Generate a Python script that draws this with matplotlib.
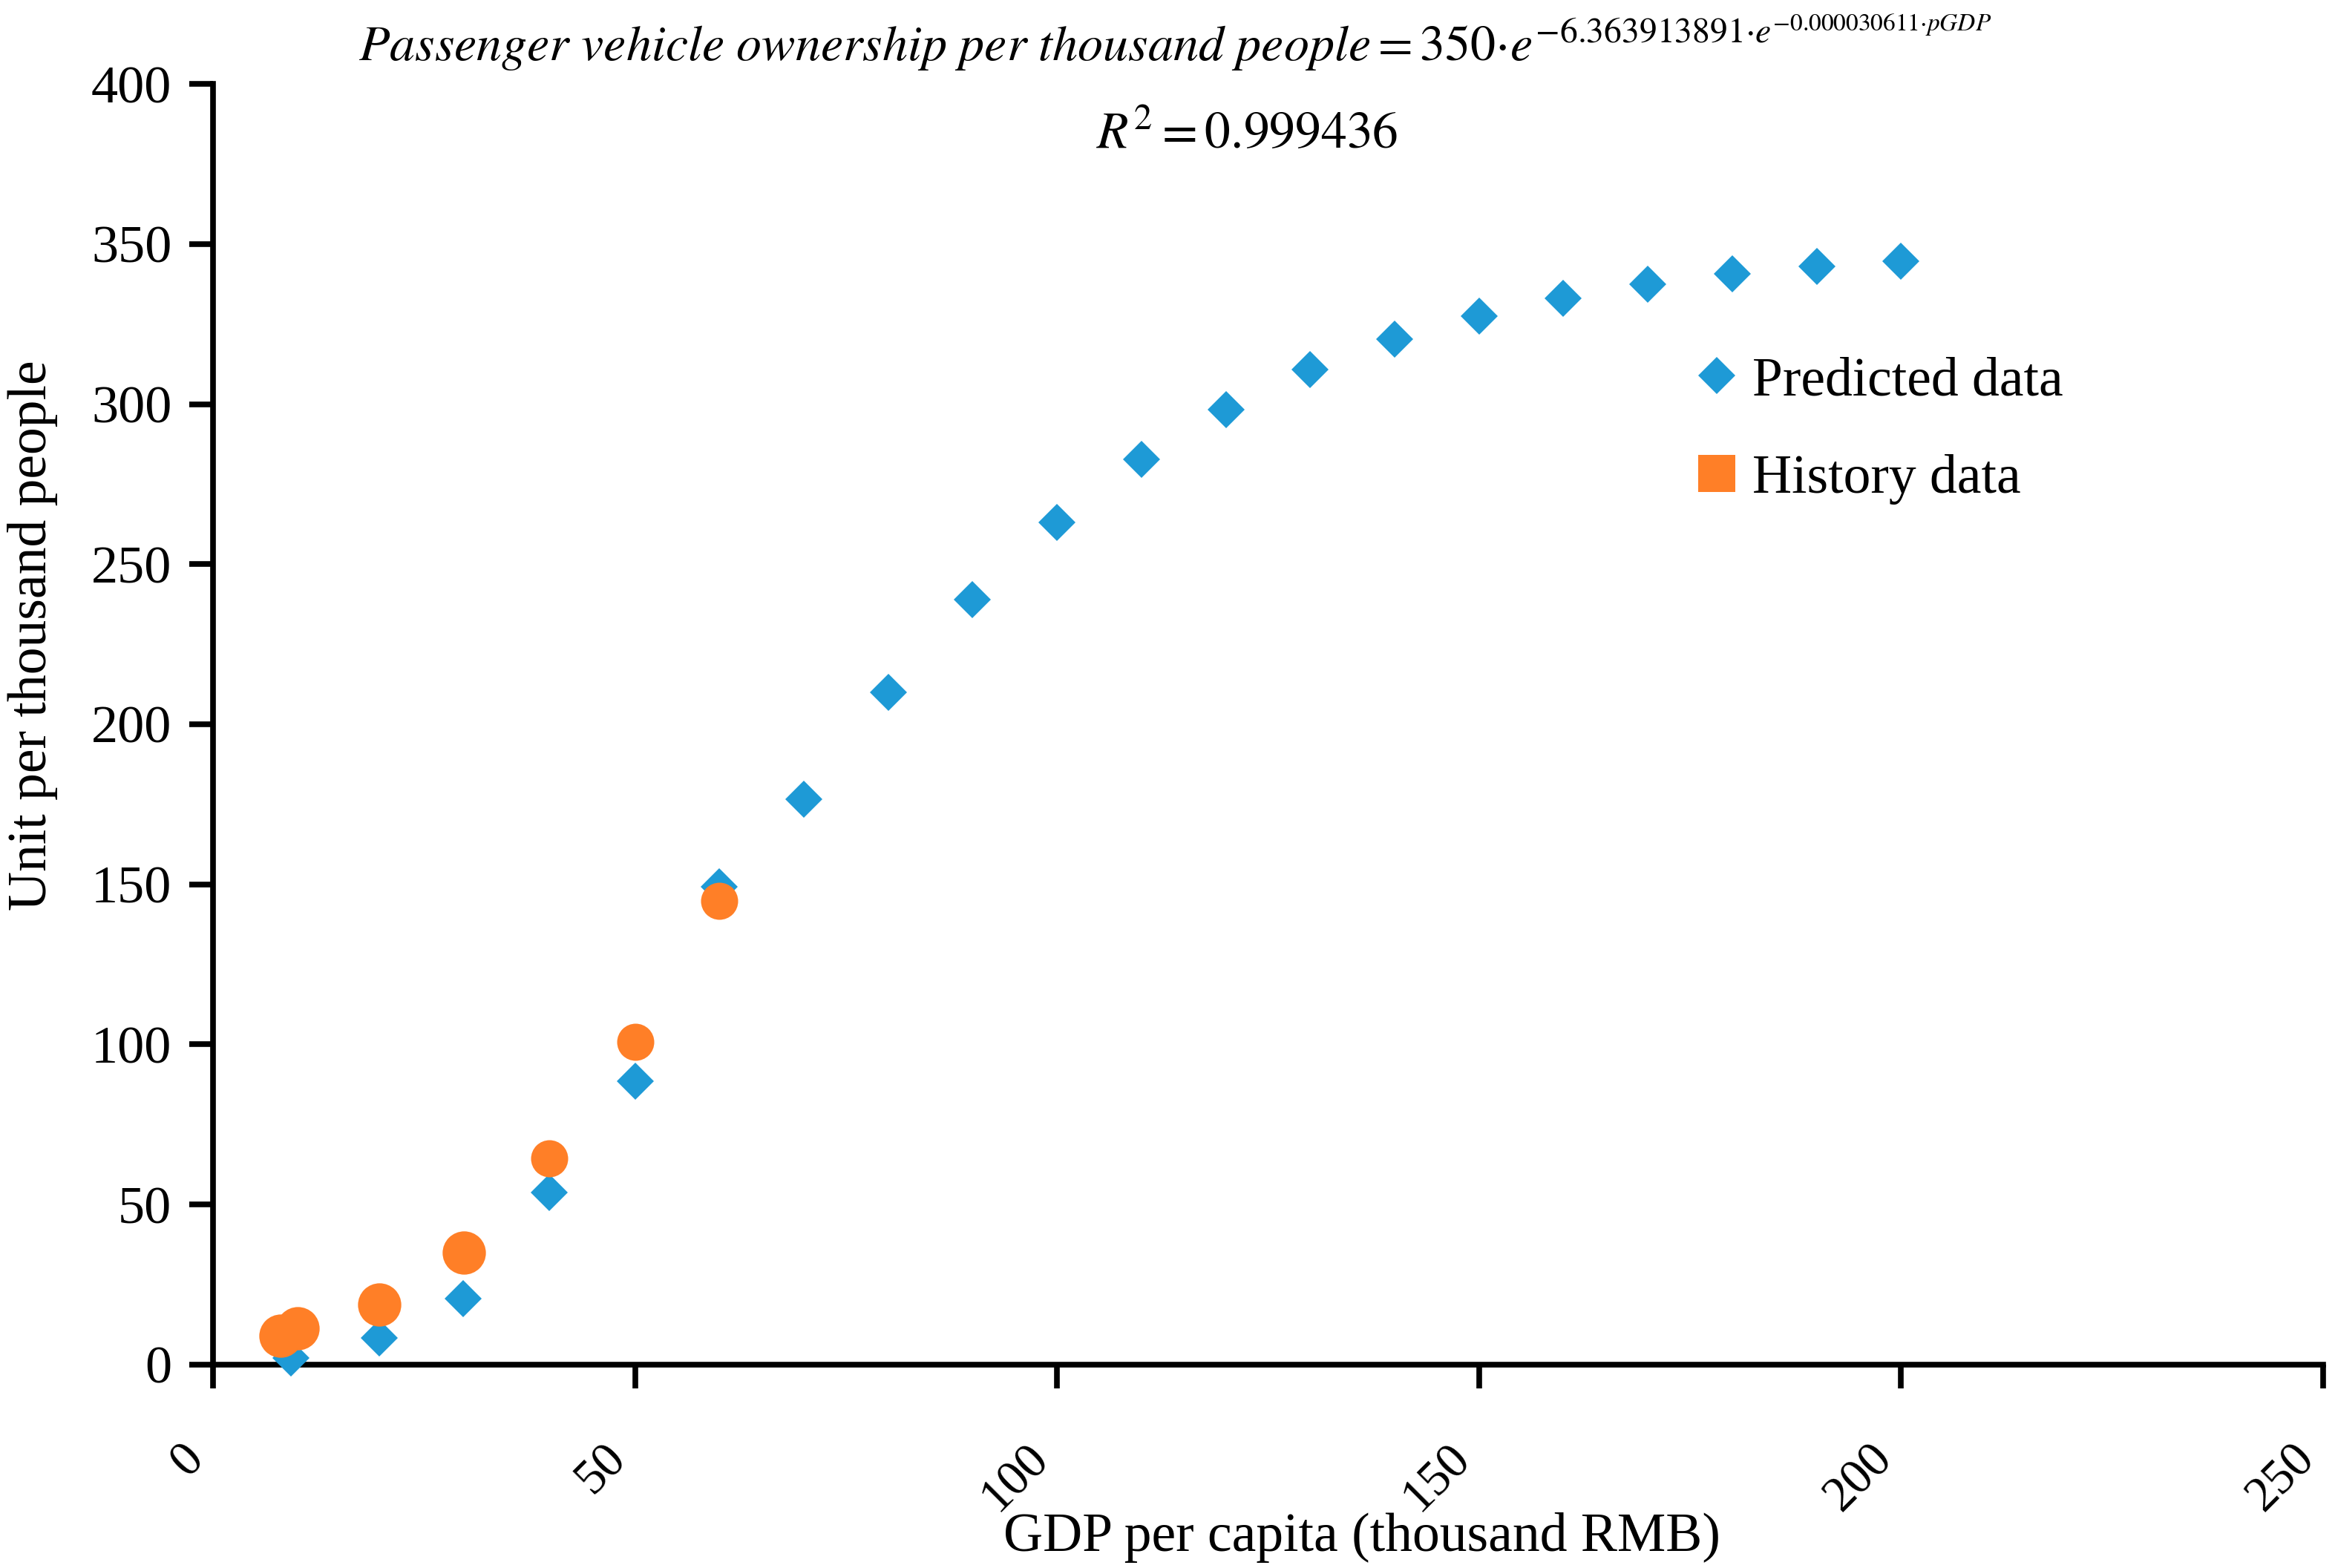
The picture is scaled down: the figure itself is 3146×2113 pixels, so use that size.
import matplotlib
matplotlib.use("Agg")
import matplotlib.pyplot as plt
from matplotlib.lines import Line2D

plt.rcParams['font.family'] = ['Liberation Serif', 'DejaVu Serif']
plt.rcParams['mathtext.fontset'] = 'stix'

# predicted data (blue diamonds)
pred_x = [9.2, 19.7, 29.6, 39.8, 50, 60, 70, 80, 90, 100,
          110, 120, 130, 140, 150, 160, 170, 180, 190, 200]
pred_y = [2.1, 8.3, 20.6, 53.8, 88.5, 149.2, 176.6, 210.0, 238.9, 263.0,
          282.7, 298.3, 310.8, 320.3, 327.4, 333.0, 337.4, 340.7, 343.0, 344.6]

# history data (orange circles)
hist_x = [8.0, 10.0, 19.7, 29.7, 39.8, 50, 60]
hist_y = [9.0, 11.4, 18.8, 35.0, 64.4, 100.8, 144.8]

x_ticks = [0, 50, 100, 150, 200, 250]
y_ticks = [0, 50, 100, 150, 200, 250, 300, 350, 400]

blue = '#1E9AD6'
orange = '#FF7F27'

fig = plt.figure(figsize=(31.46, 21.13), dpi=100)
ax = fig.add_axes([0.0912, 0.1297, 0.9037, 0.8168])

ax.plot(pred_x, pred_y, 'D', color=blue, ms=25.5, mew=0, clip_on=False, zorder=3)
# first three history points are drawn a bit larger in the original
ax.plot(hist_x[:4], hist_y[:4], 'o', color=orange, ms=42, mew=0, clip_on=False, zorder=4)
ax.plot(hist_x[4:], hist_y[4:], 'o', color=orange, ms=36, mew=0, clip_on=False, zorder=4)

ax.set_xlim(0, 250)
ax.set_ylim(0, 400)
ax.set_xticks(x_ticks)
ax.set_yticks(y_ticks)

for s in ['top', 'right']:
    ax.spines[s].set_visible(False)
for s in ['left', 'bottom']:
    ax.spines[s].set_linewidth(5.5)

ax.tick_params(axis='both', direction='out', length=23, width=5.5)
ax.tick_params(axis='y', pad=17, labelsize=52)
ax.tick_params(axis='x', pad=46, labelsize=48, labelrotation=45)
plt.setp(ax.get_xticklabels(), ha='right', va='top')

fig.text(1835 / 3146, 1 - 2090 / 2113, 'GDP per capita (thousand RMB)',
         fontsize=53, ha='center', va='baseline')
fig.text(44 / 3146, 1 - 856 / 2113, 'Unit per thousand people',
         fontsize=53, ha='center', va='center', rotation=90)

title = (r'$\mathit{Passenger\ vehicle\ ownership\ per\ thousand\ people}'
         r'{=}350{\cdot}e^{-6.363913891{\cdot}e^{-0.000030611{\cdot}pGDP}}$')
fig.text(1583 / 3146, 1 - 82 / 2113, title, fontsize=49, ha='center', va='baseline')
fig.text(1680 / 3146, 1 - 200 / 2113, r'$R^2=0.999436$', fontsize=50,
         ha='center', va='baseline')

handles = [Line2D([], [], ls='none', marker='D', color=blue, ms=25.5, mew=0),
           Line2D([], [], ls='none', marker='s', color=orange, ms=36, mew=0)]
ax.legend(handles, ['Predicted data', 'History data'], loc='center left',
          bbox_to_anchor=(0.7282, 0.7253), bbox_transform=fig.transFigure,
          frameon=False, fontsize=53, handlelength=0.6, handletextpad=0.35,
          labelspacing=0.87, borderpad=0, borderaxespad=0)

fig.savefig('out.png', dpi=100)
